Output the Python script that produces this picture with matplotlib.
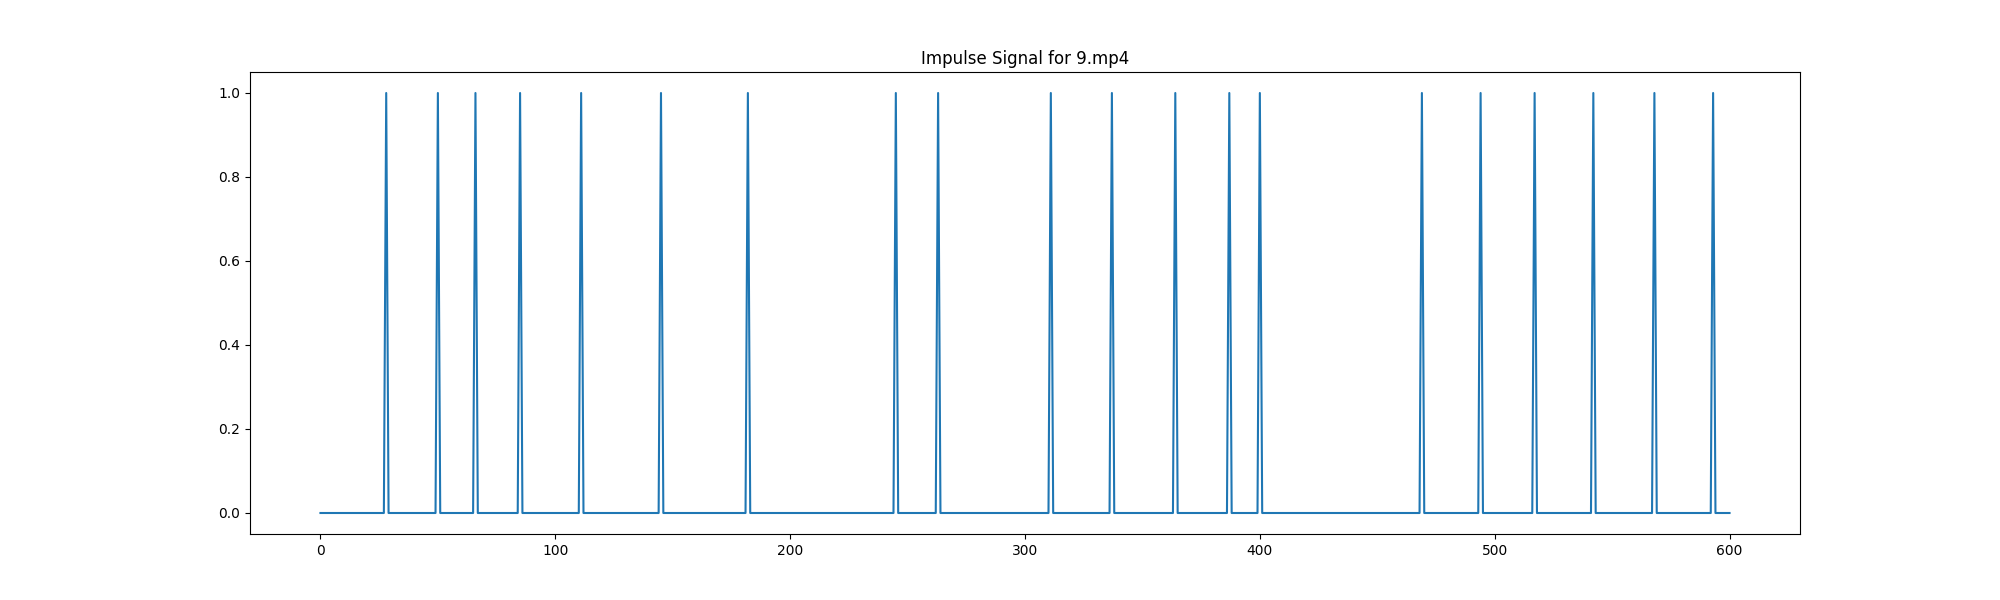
import numpy as np
import matplotlib
matplotlib.use("Agg")
import matplotlib.pyplot as plt

# frame indices where an impulse occurs
n_frames = 601
impulse_frames = [28, 50, 66, 85, 111, 145, 182, 245, 263, 311, 337, 364,
                  387, 400, 469, 494, 517, 542, 568, 593]

signal = np.zeros(n_frames)
signal[impulse_frames] = 1

plt.figure(figsize=(20, 6))
plt.plot(signal)
plt.title("Impulse Signal for 9.mp4")
plt.savefig("out.png")
